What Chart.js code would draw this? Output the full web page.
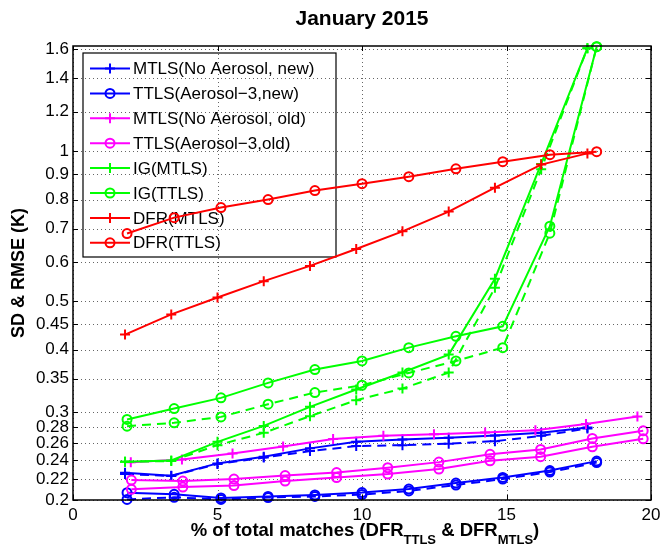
<!DOCTYPE html>
<html><head><meta charset="utf-8">
<script src="https://cdn.jsdelivr.net/npm/chart.js@4/dist/chart.umd.min.js"></script>
<style>html,body{margin:0;padding:0;background:#fff}#wrap{width:662px;height:547px;position:relative}</style>
</head><body><div id="wrap"><canvas id="c" width="662" height="547"></canvas></div>
<script>
const FONT = '"Liberation Sans", Arial, Helvetica, sans-serif';

// ---- tick labels ----
const yTickValues = [0.2, 0.22, 0.24, 0.26, 0.28, 0.3, 0.35, 0.4, 0.45, 0.5, 0.6, 0.7, 0.8, 0.9, 1, 1.2, 1.4, 1.6];
const yTickLabels = ['0.2','0.22','0.24','0.26','0.28','0.3','0.35','0.4','0.45','0.5','0.6','0.7','0.8','0.9','1','1.2','1.4','1.6'];
const xTickValues = [0, 5, 10, 15, 20];

// ---- x positions (% of total matches) ----
const xMTLSnew = [1.8, 3.4, 5.0, 6.6, 8.2, 9.8, 11.4, 13.0, 14.6, 16.2, 17.8];
const xTTLSnew = [1.87, 3.5, 5.12, 6.75, 8.37, 10.0, 11.62, 13.25, 14.87, 16.5, 18.12];
const xMTLSold = [2.0, 3.77, 5.52, 7.27, 9.0, 10.74, 12.49, 14.26, 16.0, 17.75, 19.53];
const xTTLSold = [2.02, 3.8, 5.57, 7.34, 9.12, 10.89, 12.66, 14.43, 16.18, 17.97, 19.73];

// ---- values (K) ----
const mtlsNewRMSE = [0.2268, 0.2237, 0.2368, 0.2442, 0.2538, 0.2616, 0.2643, 0.2667, 0.2692, 0.2729, 0.2795];
const mtlsNewSD   = [0.2254, 0.2234, 0.2361, 0.2432, 0.2506, 0.2565, 0.2576, 0.2594, 0.2624, 0.2689, 0.2782];
const ttlsNewRMSE = [0.2068, 0.2053, 0.2019, 0.2033, 0.2047, 0.2070, 0.2104, 0.2163, 0.2220, 0.2291, 0.2393];
const ttlsNewSD   = [0.2005, 0.2025, 0.2005, 0.2023, 0.2033, 0.2051, 0.2085, 0.2143, 0.2203, 0.2275, 0.2377];
const mtlsOldRMSE = [0.238, 0.241, 0.248, 0.256, 0.265, 0.269, 0.271, 0.273, 0.276, 0.284, 0.294];
const ttlsOldRMSE = [0.2193, 0.2183, 0.2203, 0.2239, 0.2270, 0.2321, 0.2382, 0.2469, 0.2526, 0.2657, 0.2752];
const ttlsOldSD   = [0.2101, 0.2123, 0.2138, 0.2183, 0.2218, 0.2254, 0.2307, 0.2396, 0.2442, 0.2557, 0.2652];
const igMTLSRMSE  = [0.2386, 0.2401, 0.2616, 0.2815, 0.3074, 0.3330, 0.3601, 0.3912, 0.5552, 0.943, 1.609];
const igMTLSSD    = [0.2386, 0.2393, 0.2576, 0.2727, 0.2945, 0.3170, 0.3345, 0.3601, 0.5327, 0.92, 1.609];
const igTTLSRMSE  = [0.290, 0.305, 0.3204, 0.3433, 0.3651, 0.3799, 0.404, 0.4256, 0.4457, 0.7077, 1.62];
const igTTLSSD    = [0.2812, 0.2855, 0.2935, 0.3112, 0.3284, 0.3396, 0.3595, 0.3799, 0.404, 0.6852, 1.62];
const dfrMTLS     = [0.429, 0.471, 0.509, 0.549, 0.589, 0.637, 0.691, 0.757, 0.845, 0.94, 0.99];
const dfrTTLS     = [0.684, 0.736, 0.771, 0.800, 0.834, 0.861, 0.889, 0.922, 0.953, 0.984, 0.998];

const legendNames = ['MTLS(No Aerosol, new)', 'TTLS(Aerosol\u22123,new)', 'MTLS(No Aerosol, old)', 'TTLS(Aerosol\u22123,old)', 'IG(MTLS)', 'IG(TTLS)', 'DFR(MTLS)', 'DFR(TTLS)'];
const legendColors = ['#0000ff', '#0000ff', '#ff00ff', '#ff00ff', '#00ff00', '#00ff00', '#ff0000', '#ff0000'];
const legendMarkers = ['cross', 'circle', 'cross', 'circle', 'cross', 'circle', 'cross', 'circle'];

function pts(xs, ys) { return xs.map((x, i) => ({ x: x, y: ys[i] })); }
function ds(label, xs, ys, color, marker, dashed) {
  return {
    label: label,
    data: pts(xs, ys),
    borderColor: color,
    backgroundColor: 'rgba(0,0,0,0)',
    borderWidth: 2,
    borderDash: dashed ? [9, 6] : [],
    pointStyle: marker,
    pointRadius: marker === 'cross' ? 5 : 4.5,
    pointBorderColor: color,
    pointBackgroundColor: 'rgba(0,0,0,0)',
    pointBorderWidth: 2,
    tension: 0,
    clip: false,
    showLine: true
  };
}

// drawn so that the first in this list ends on top
const datasets = [
  ds('DFR(TTLS)', xTTLSnew, dfrTTLS, '#ff0000', 'circle', false),
  ds('DFR(MTLS)', xMTLSnew, dfrMTLS, '#ff0000', 'cross', false),
  ds('IG(TTLS) SD', xTTLSnew, igTTLSSD, '#00ff00', 'circle', true),
  ds('IG(TTLS)', xTTLSnew, igTTLSRMSE, '#00ff00', 'circle', false),
  ds('IG(MTLS) SD', xMTLSnew, igMTLSSD, '#00ff00', 'cross', true),
  ds('IG(MTLS)', xMTLSnew, igMTLSRMSE, '#00ff00', 'cross', false),
  ds('TTLS old SD', xTTLSold, ttlsOldSD, '#ff00ff', 'circle', false),
  ds('TTLS old', xTTLSold, ttlsOldRMSE, '#ff00ff', 'circle', false),
  ds('MTLS old', xMTLSold, mtlsOldRMSE, '#ff00ff', 'cross', false),
  ds('TTLS new SD', xTTLSnew, ttlsNewSD, '#0000ff', 'circle', true),
  ds('TTLS new', xTTLSnew, ttlsNewRMSE, '#0000ff', 'circle', false),
  ds('MTLS new SD', xMTLSnew, mtlsNewSD, '#0000ff', 'cross', true),
  ds('MTLS new', xMTLSnew, mtlsNewRMSE, '#0000ff', 'cross', false)
];

function drawMarker(ctx, type, x, y, color) {
  ctx.save();
  ctx.strokeStyle = color; ctx.lineWidth = 2; ctx.setLineDash([]);
  ctx.beginPath();
  if (type === 'cross') {
    ctx.moveTo(x - 5, y); ctx.lineTo(x + 5, y);
    ctx.moveTo(x, y - 5); ctx.lineTo(x, y + 5);
  } else {
    ctx.arc(x, y, 4.5, 0, Math.PI * 2);
  }
  ctx.stroke();
  ctx.restore();
}

const gridPlugin = {
  id: 'dotGrid',
  beforeDatasetsDraw(chart) {
    const ctx = chart.ctx, a = chart.chartArea;
    const xs = chart.scales.x, ys = chart.scales.y;
    ctx.save();
    ctx.strokeStyle = 'rgba(0,0,0,0.6)'; ctx.lineWidth = 1; ctx.setLineDash([1, 3]);
    ctx.beginPath();
    yTickValues.forEach(v => {
      const y = Math.round(ys.getPixelForValue(v)) + 0.5;
      ctx.moveTo(a.left, y); ctx.lineTo(a.right, y);
    });
    xTickValues.forEach(v => {
      const x = Math.round(xs.getPixelForValue(v)) + 0.5;
      ctx.moveTo(x, a.top); ctx.lineTo(x, a.bottom);
    });
    ctx.stroke();
    ctx.restore();
  }
};

const legendPlugin = {
  id: 'boxLegend',
  beforeDatasetsDraw(chart) {
    const ctx = chart.ctx;
    ctx.save();
    ctx.strokeStyle = '#000'; ctx.lineWidth = 1.2; ctx.setLineDash([]);
    ctx.strokeRect(83, 53, 253, 204);
    ctx.font = '17px ' + FONT;
    ctx.textBaseline = 'middle';
    ctx.fillStyle = '#000';
    for (let i = 0; i < legendNames.length; i++) {
      const y = 68.5 + i * 24.9;
      ctx.strokeStyle = legendColors[i]; ctx.lineWidth = 2;
      ctx.beginPath(); ctx.moveTo(90, y); ctx.lineTo(130, y); ctx.stroke();
      drawMarker(ctx, legendMarkers[i], 110, y, legendColors[i]);
      ctx.fillStyle = '#000';
      ctx.fillText(legendNames[i], 133, y + 1);
    }
    ctx.restore();
  }
};

const framePlugin = {
  id: 'frame',
  afterDraw(chart) {
    const ctx = chart.ctx, a = chart.chartArea;
    const xs = chart.scales.x, ys = chart.scales.y;
    ctx.save();
    ctx.strokeStyle = '#000'; ctx.lineWidth = 1.5; ctx.setLineDash([]);
    ctx.strokeRect(a.left, a.top, a.right - a.left, a.bottom - a.top);
    ctx.lineWidth = 1;
    ctx.beginPath();
    yTickValues.forEach(v => {
      const y = Math.round(ys.getPixelForValue(v)) + 0.5;
      ctx.moveTo(a.left, y); ctx.lineTo(a.left + 5, y);
      ctx.moveTo(a.right, y); ctx.lineTo(a.right - 5, y);
    });
    xTickValues.forEach(v => {
      const x = Math.round(xs.getPixelForValue(v)) + 0.5;
      ctx.moveTo(x, a.bottom); ctx.lineTo(x, a.bottom - 5);
      ctx.moveTo(x, a.top); ctx.lineTo(x, a.top + 5);
    });
    ctx.stroke();

    // title
    ctx.fillStyle = '#000';
    ctx.font = 'bold 21px ' + FONT;
    ctx.textAlign = 'center'; ctx.textBaseline = 'middle';
    ctx.fillText('January 2015', 362, 19);

    // y label
    ctx.save();
    ctx.translate(19, 273);
    ctx.rotate(-Math.PI / 2);
    ctx.font = 'bold 18px ' + FONT;
    ctx.fillText('SD & RMSE (K)', 0, 0);
    ctx.restore();

    // x label with subscripts
    const parts = [
      ['% of total matches (DFR', false], ['TTLS', true], [' & DFR', false], ['MTLS', true], [')', false]
    ];
    const big = 'bold 18.5px ' + FONT, small = 'bold 13px ' + FONT;
    let total = 0;
    parts.forEach(p => { ctx.font = p[1] ? small : big; total += ctx.measureText(p[0]).width; });
    let x = 365 - total / 2;
    ctx.textAlign = 'left'; ctx.textBaseline = 'alphabetic';
    parts.forEach(p => {
      ctx.font = p[1] ? small : big;
      ctx.fillText(p[0], x, p[1] ? 544 : 536);
      x += ctx.measureText(p[0]).width;
    });
    ctx.restore();
  }
};

new Chart(document.getElementById('c'), {
  type: 'scatter',
  data: { datasets: datasets },
  options: {
    responsive: false,
    animation: false,
    devicePixelRatio: 1,
    layout: { padding: { left: 0, top: 46, right: 11, bottom: 0 } },
    plugins: { legend: { display: false }, tooltip: { enabled: false }, title: { display: false } },
    scales: {
      x: {
        type: 'linear', min: 0, max: 20,
        afterBuildTicks: s => { s.ticks = xTickValues.map(v => ({ value: v })); },
        afterFit: s => { s.height = 47; s.paddingLeft = 0; s.paddingRight = 0; },
        ticks: { color: '#000', font: { family: FONT, size: 17 }, padding: 5, maxRotation: 0, autoSkip: false,
                 callback: v => String(v) },
        grid: { display: false, drawTicks: false, tickLength: 0 },
        border: { display: false }
      },
      y: {
        type: 'logarithmic', min: 0.2, max: 1.625,
        afterBuildTicks: s => { s.ticks = yTickValues.map(v => ({ value: v })); },
        afterFit: s => { s.width = 73; s.paddingTop = 0; s.paddingBottom = 0; },
        ticks: { color: '#000', font: { family: FONT, size: 17 }, padding: 4, autoSkip: false,
                 callback: (v) => { const i = yTickValues.indexOf(v); return i >= 0 ? yTickLabels[i] : ''; } },
        grid: { display: false, drawTicks: false, tickLength: 0 },
        border: { display: false }
      }
    }
  },
  plugins: [gridPlugin, legendPlugin, framePlugin]
});
</script>
</body></html>
